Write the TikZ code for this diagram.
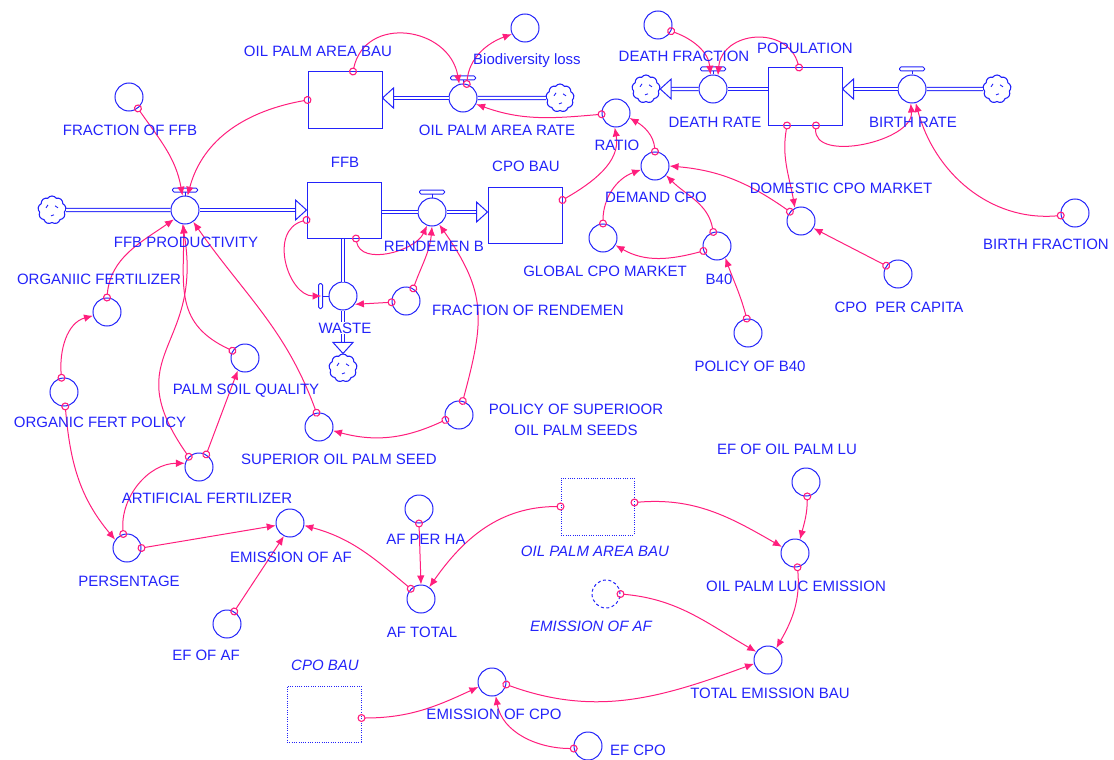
\documentclass[tikz,border=0pt]{standalone}
\usepackage{fontspec}
\setmainfont{Liberation Sans}
\usetikzlibrary{arrows.meta,shapes.symbols,calc}
\definecolor{vblue}{RGB}{35,35,250}
\definecolor{vpink}{RGB}{255,30,125}
\tikzset{
 stockbox/.style={draw=vblue, line width=1pt, minimum width=74pt, minimum height=56pt, inner sep=0pt},
 shadowbox/.style={stockbox, dash pattern=on 1pt off 1.3pt},
 aux/.style={circle, draw=vblue, line width=1pt, minimum size=28pt, inner sep=0pt},
 shadowaux/.style={aux, dash pattern=on 3pt off 2.5pt},
 valve/.style={aux},
 src/.style={cloud, cloud puffs=9, cloud puff arc=110, aspect=1, draw=vblue, line width=1.1pt, minimum width=28pt, minimum height=28pt, inner sep=0pt,
   path picture={\draw[vblue,line width=0.9pt] ([shift={(-6,2)}]path picture bounding box.center) -- ++(2,3) ([shift={(3,4)}]path picture bounding box.center) -- ++(3,-2) ([shift={(-1,-6)}]path picture bounding box.center) -- ++(3,1);}},
 lbl/.style={text=vblue, font=\fontsize{15}{17}\selectfont, inner sep=0pt},
 ilbl/.style={text=vblue, font=\fontsize{15}{17}\selectfont\itshape, inner sep=0pt},
 link/.style={draw=vpink, line width=1pt, shorten <=-4pt, {Circle[open,length=8pt,width=8pt,line width=1.1pt]}-{Latex[length=9pt,width=7.5pt]}},
 pipe/.style={draw=vblue, line width=1pt, double=white, double distance=2.4pt},
 flowtri/.pic={\draw[vblue, fill=white, line width=1pt] (0,0) -- (-11,10) -- (-11,-10) -- cycle;},
}
\newcommand\valvebar[1]{%
  \draw[vblue,line width=1pt] (#1.north) -- ++(0,3.5);
  \draw[vblue,line width=1pt,rounded corners=1.5pt] ([shift={(-12.5,3.5)}]#1.north) rectangle ([shift={(12.5,7.5)}]#1.north);}
\begin{document}
\begin{tikzpicture}[x=1pt,y=1pt]
\useasboundingbox (0,0) rectangle (1114,-760);
% stocks
\node[stockbox] (opab) at (345,-100) {};
\node[stockbox] (ffb) at (344,-210) {};
\node[stockbox] (cpobau) at (525,-215) {};
\node[stockbox, minimum height=57pt] (pop) at (805,-96.5) {};
\node[shadowbox, minimum width=73pt, minimum height=57pt] (opabs) at (597.5,-506.5) {};
\node[shadowbox] (cpobs) at (324,-714) {};
% valves
\node[valve] (ffbprod) at (185,-210) {};
\node[valve] (rend) at (432,-212) {};
\node[valve] (waste) at (343,-296) {};
\node[valve] (oprate) at (463,-98) {};
\node[valve] (deathrate) at (713,-89) {};
\node[valve] (birthrate) at (912,-89) {};
\valvebar{ffbprod}
\valvebar{rend}
\valvebar{oprate}
\valvebar{deathrate}
\valvebar{birthrate}
\draw[vblue,line width=1pt] (waste.west) -- ++(-6,0);
\draw[vblue,line width=1pt,rounded corners=1.5pt] ([shift={(-10,-12.5)}]waste.west) rectangle ([shift={(-6,12.5)}]waste.west);
% clouds
\node[src] (cloudA) at (52,-210) {};
\node[src] (cloudO) at (560,-98) {};
\node[src] (cloudD) at (646,-89) {};
\node[src] (cloudB) at (997,-89) {};
\node[src] (cloudW) at (343,-368) {};
% auxiliaries
\node[aux] (fracffb) at (129,-97) {};
\node[aux] (bio) at (525,-28) {};
\node[aux] (deathfrac) at (658,-25) {};
\node[aux] (ratio) at (616,-113) {};
\node[aux] (demand) at (655,-166) {};
\node[aux] (domestic) at (801,-221) {};
\node[aux] (global) at (603,-238) {};
\node[aux] (b40) at (717,-246) {};
\node[aux] (polb40) at (748,-333) {};
\node[aux] (cpopc) at (898,-274) {};
\node[aux] (birthfrac) at (1075,-213) {};
\node[aux] (orgfert) at (107,-312) {};
\node[aux] (orgpol) at (64,-392) {};
\node[aux] (palmsoil) at (245,-358) {};
\node[aux] (artfert) at (199,-467) {};
\node[aux] (supseed) at (319,-427) {};
\node[aux] (polsup) at (459,-415) {};
\node[aux] (fracrend) at (406,-301) {};
\node[aux] (pers) at (127,-548) {};
\node[aux] (emaf) at (290,-523) {};
\node[aux] (efaf) at (227,-624) {};
\node[aux] (afperha) at (419,-509) {};
\node[aux] (aftotal) at (421,-599) {};
\node[aux] (efoplu) at (806,-482) {};
\node[aux] (oplucem) at (795,-553) {};
\node[shadowaux] (emafs) at (606,-594) {};
\node[aux] (totem) at (768,-660) {};
\node[aux] (emcpo) at (492,-682) {};
\node[aux] (efcpo) at (588,-746) {};
% pipes
\draw[pipe] (cloudA) -- (ffbprod);
\draw[pipe, shorten >=10pt] (ffbprod) -- (ffb.west);
\path (ffb.west) pic{flowtri};
\draw[pipe] (ffb.east |- rend) -- (rend);
\draw[pipe, shorten >=10pt] (rend) -- (cpobau.west |- rend);
\path (cpobau.west |- rend) pic{flowtri};
\draw[pipe] (cloudO) -- (oprate);
\draw[pipe, shorten >=10pt] (oprate) -- (opab.east |- oprate);
\path (opab.east |- oprate) pic[rotate=180]{flowtri};
\draw[pipe] (pop.west |- deathrate) -- (deathrate);
\draw[pipe, shorten >=10pt] (deathrate) -- (cloudD);
\path (cloudD.east) pic[rotate=180]{flowtri};
\draw[pipe] (cloudB) -- (birthrate);
\draw[pipe, shorten >=10pt] (birthrate) -- (pop.east |- birthrate);
\path (pop.east |- birthrate) pic[rotate=180]{flowtri};
\draw[pipe] (ffb.south -| waste) -- (waste);
\draw[pipe, shorten >=10pt] (waste) -- (cloudW);
\path (cloudW.north) pic[rotate=-90]{flowtri};
% links
\draw[link] (fracffb.-52) to[out=-55,in=100] (ffbprod.100);
\draw[link] (opab.west) to[out=190,in=75] (ffbprod.80);
\draw[link] ([xshift=8pt]opab.north) to[out=78,in=100,looseness=1.4] (oprate.105);
\draw[link] (oprate.75) to[out=85,in=200] (bio.205);
\draw[link] (ratio.185) to[out=185,in=-20] (oprate.-25);
\draw[link] ([yshift=15pt]cpobau.east) to[out=30,in=-80] (ratio.-95);
\draw[link] (demand.90) to[out=95,in=-30] (ratio.-20);
\draw[link] (global.90) to[out=90,in=200] (demand.195);
\draw[link] (b40.105) to[out=100,in=-45] (demand.-40);
\draw[link] (b40.200) to[out=195,in=-30] (global.-30);
\draw[link] (polb40.95) to[out=105,in=-70] (b40.-55);
\draw[link] (domestic.140) to[out=145,in=-5] (demand.0);
\draw[link] ([xshift=-18pt]pop.south) to[out=-100,in=100] (domestic.115);
\draw[link] ([xshift=11pt]pop.south) to[out=-95,in=-85] (birthrate.-95);
\draw[link] ([xshift=-6pt]pop.north) to[out=105,in=85,looseness=1.4] (deathrate.70);
\draw[link] (deathfrac.-25) to[out=-20,in=95] (deathrate.100);
\draw[link] (birthfrac.190) to[out=185,in=-75] (birthrate.-75);
\draw[link] (cpopc.145) -- (domestic.-30);
\draw[link, shorten >=7pt] ([yshift=-10pt]ffb.west) to[out=195,in=180,looseness=1.3] (waste.180);
\draw[link] ([xshift=12pt]ffb.south) to[out=-80,in=-115] (rend.-110);
\draw[link] (fracrend.185) -- (waste.-35);
\draw[link] (fracrend.60) to[out=70,in=-95] (rend.-90);
\draw[link] (polsup.75) to[out=75,in=-55,looseness=1.2] (rend.-60);
\draw[link] (polsup.200) to[out=205,in=-15] (supseed.-15);
\draw[link] (supseed.100) to[out=110,in=-55] (ffbprod.-55);
\draw[link] (artfert.135) to[out=125,in=-80,looseness=1.4] (ffbprod.-100);
\draw[link] (artfert.60) -- (palmsoil.-120);
\draw[link] (palmsoil.150) to[out=155,in=-90,looseness=1.2] (ffbprod.-95);
\draw[link] (orgfert.90) to[out=85,in=-145] (ffbprod.-140);
\draw[link] (orgpol.100) to[out=95,in=195] (orgfert.195);
\draw[link] (orgpol.-85) to[out=-85,in=130] (pers.145);
\draw[link] (pers.105) to[out=95,in=180] (artfert.165);
\draw[link] (pers.0) -- (emaf.190);
\draw[link] (efaf.60) -- (emaf.-115);
\draw[link] (aftotal.135) to[out=140,in=-15] (emaf.-10);
\draw[link] (afperha.-90) -- (aftotal.90);
\draw[link] (opabs.west) to[out=180,in=55] (aftotal.55);
\draw[link] ([yshift=4pt]opabs.east) to[out=5,in=150] (oplucem.155);
\draw[link] (efoplu.-85) to[out=-90,in=75] (oplucem.70);
\draw[link] (oplucem.-80) to[out=-85,in=60] (totem.55);
\draw[link] (emafs.0) to[out=-5,in=150] (totem.145);
\draw[link] (emcpo.-10) to[out=-20,in=200] (totem.195);
\draw[link] ([yshift=-4pt]cpobs.east) to[out=0,in=205] (emcpo.200);
\draw[link] (efcpo.190) to[out=180,in=-80] (emcpo.-75);
% labels
\node[lbl] (t1) at (318,-51) {OIL PALM AREA BAU};
\node[lbl] (t2) at (130,-130) {FRACTION OF FFB};
\node[lbl] (t3) at (345,-162) {FFB};
\node[lbl] (t4) at (186,-242) {FFB PRODUCTIVITY};
\node[lbl] (t5) at (527,-61) {Biodiversity loss};
\node[lbl] (t6) at (497,-130) {OIL PALM AREA RATE};
\node[lbl] (t7) at (684,-56) {DEATH FRACTION};
\node[lbl] (t8) at (617,-145) {RATIO};
\node[lbl] (t9) at (526,-166) {CPO BAU};
\node[lbl] (t10) at (656,-197) {DEMAND CPO};
\node[lbl] (t11) at (434,-246) {RENDEMEN B};
\node[lbl] (t12) at (715,-122) {DEATH RATE};
\node[lbl] (t13) at (805,-48) {POPULATION};
\node[lbl] (t14) at (913,-122) {BIRTH RATE};
\node[lbl] (t15) at (841,-188) {DOMESTIC CPO MARKET};
\node[lbl] (t16) at (1046,-244) {BIRTH FRACTION};
\node[lbl] (t17) at (605,-271) {GLOBAL CPO MARKET};
\node[lbl] (t18) at (719,-279) {B40};
\node[lbl] (t19) at (528,-310) {FRACTION OF RENDEMEN};
\node[lbl] (t20) at (576,-409) {POLICY OF SUPERIOOR};
\node[lbl] (t21) at (576,-430) {OIL PALM SEEDS};
\node[lbl] (t22) at (750,-366) {POLICY OF B40};
\node[lbl] (t23) at (899,-307) {CPO\ \ PER CAPITA};
\node[lbl] (t24) at (787,-449) {EF OF OIL PALM LU};
\node[lbl] (t25) at (99,-279) {ORGANIIC FERTILIZER};
\node[lbl] (t26) at (100,-422) {ORGANIC FERT POLICY};
\node[lbl] (t27) at (246,-391) {PALM SOIL QUALITY};
\node[lbl] (t28) at (339,-459) {SUPERIOR OIL PALM SEED};
\node[lbl, fill=white, inner sep=1pt] (t29) at (345,-328) {WASTE};
\node[lbl] (t30) at (207,-498) {ARTIFICIAL FERTILIZER};
\node[lbl] (t31) at (129,-581) {PERSENTAGE};
\node[lbl] (t32) at (291,-557) {EMISSION OF AF};
\node[lbl] (t33) at (206,-655) {EF OF AF};
\node[ilbl] (t34) at (325,-665) {CPO BAU};
\node[lbl] (t35) at (426,-539) {AF PER HA};
\node[ilbl] (t36) at (595,-551) {OIL PALM AREA BAU};
\node[lbl] (t37) at (422,-632) {AF TOTAL};
\node[ilbl] (t38) at (591,-626) {EMISSION OF AF};
\node[lbl] (t39) at (494,-714) {EMISSION OF CPO};
\node[lbl] (t40) at (638,-750) {EF CPO};
\node[lbl] (t41) at (796,-586) {OIL PALM LUC EMISSION};
\node[lbl] (t42) at (770,-693) {TOTAL EMISSION BAU};
\end{tikzpicture}
\end{document}
